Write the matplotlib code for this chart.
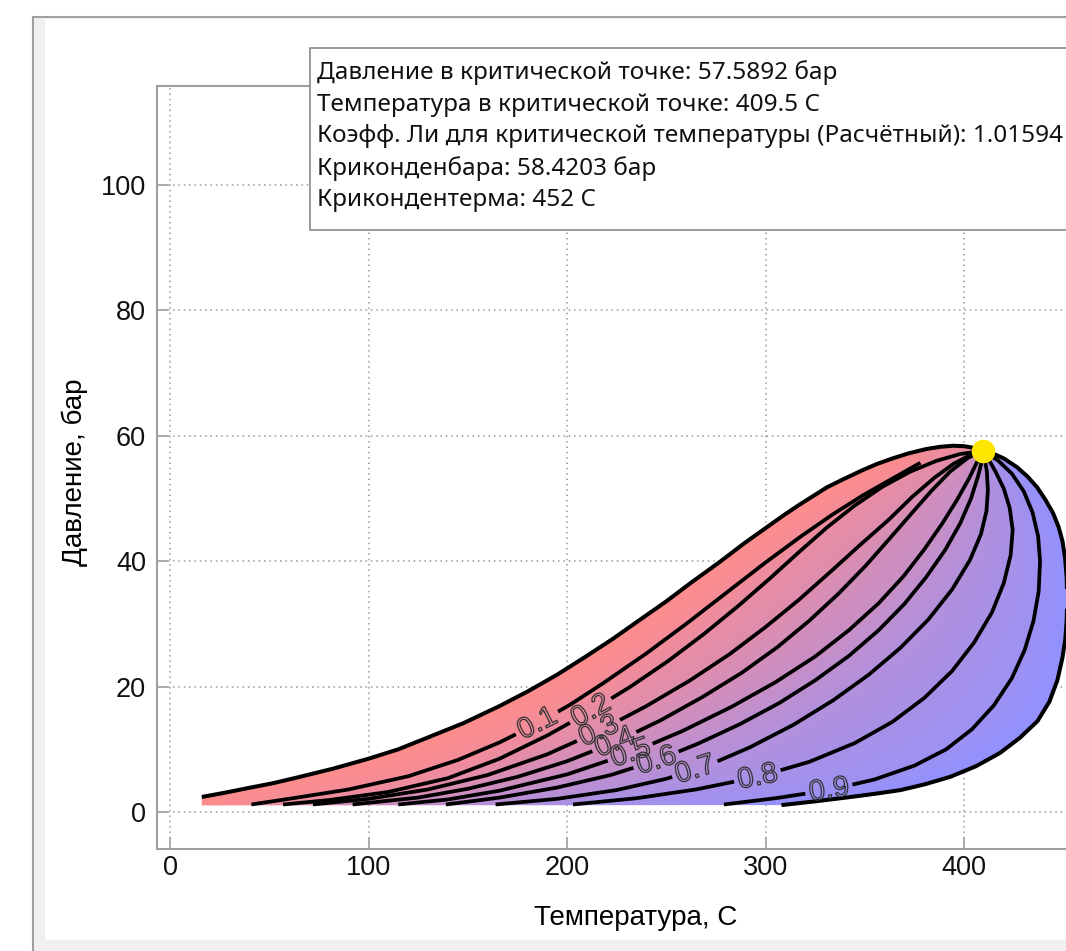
import numpy as np
import matplotlib
matplotlib.use("Agg")
import matplotlib.pyplot as plt
from matplotlib.patches import Polygon, Rectangle
import matplotlib.patheffects as pe

# ---------------- data ----------------
T_crit, P_crit = 409.5, 57.5892

bubble_T = [16, 28, 39, 52, 64, 82, 100, 115, 130, 148, 166, 180, 195, 209, 223, 236, 250, 263, 277, 289, 301, 309, 317, 324, 331, 340, 348, 356, 364, 372, 381, 388, 394.5, 400, 404.5, 409.5]
bubble_P = [2.4, 3.1, 3.8, 4.6, 5.5, 6.9, 8.5, 10.0, 11.9, 14.2, 16.9, 19.2, 21.9, 24.7, 27.6, 30.5, 33.6, 36.7, 39.9, 42.8, 45.5, 47.3, 49.0, 50.4, 51.8, 53.2, 54.4, 55.5, 56.4, 57.2, 57.9, 58.25, 58.42, 58.35, 58.1, 57.59]

dew_T = [409.5, 413, 420, 426.7, 432, 436.8, 441, 444.8, 447.6, 449.6, 450.9, 451.7, 452, 451.7, 451, 449.5, 447, 443, 437, 428, 418, 406, 393, 380, 368, 355, 343, 325, 308]
dew_P = [57.59, 57.4, 56.4, 55.0, 53.5, 51.8, 49.8, 47.7, 45.5, 43.2, 40.5, 37.5, 34.0, 30.5, 27.5, 24.5, 21.0, 17.6, 14.5, 11.8, 9.4, 7.3, 5.6, 4.4, 3.5, 2.9, 2.4, 1.7, 1.1]

q01_T = [41, 64, 90, 120, 145, 166, 185, 202, 218, 240, 260, 280, 300, 318, 334, 349, 364, 378]
q01_P = [1.2, 2.3, 3.6, 5.7, 8.3, 11.1, 14.1, 17.2, 20.5, 25.3, 30.0, 34.9, 39.8, 44.0, 47.5, 50.5, 53.2, 55.7]
q02_T = [57, 80, 110, 140, 166, 190, 212, 232, 251, 269, 286, 302, 317, 331, 345, 359, 373, 386, 398, 409.5]
q02_P = [1.2, 1.9, 3.2, 5.4, 8.5, 12.2, 16.1, 20.0, 24.1, 28.4, 32.8, 37.2, 41.5, 45.4, 48.9, 51.9, 54.3, 56.0, 57.1, 57.59]
q03_T = [72, 100, 130, 160, 190, 216, 240, 262, 282, 300, 317, 333, 348, 362, 374, 385, 395, 403, 409.5]
q03_P = [1.2, 2.1, 3.6, 5.9, 9.2, 12.9, 16.9, 21.0, 25.2, 29.5, 33.9, 38.4, 42.7, 46.6, 50.3, 53.3, 55.6, 56.9, 57.59]
q04_T = [92, 125, 150, 175, 200, 224, 247, 268, 288, 306, 322, 337, 350.5, 362.5, 373.5, 383.5, 393, 402, 409.5]
q04_P = [1.2, 2.3, 3.7, 5.6, 8.1, 11.1, 14.6, 18.3, 22.2, 26.3, 30.5, 34.9, 39.3, 43.6, 47.6, 51.2, 54.3, 56.5, 57.59]
q05_T = [115, 140, 166, 200, 232, 258, 283, 305, 325, 342, 357, 369.5, 380, 389, 396.5, 402.5, 406.5, 409.5]
q05_P = [1.2, 2.0, 3.4, 6.0, 9.4, 12.9, 16.8, 20.7, 24.8, 29.0, 33.3, 37.6, 41.9, 46.0, 49.8, 53.2, 55.8, 57.59]
q06_T = [139, 166, 195, 222, 245, 266, 287, 307, 325, 342, 357, 370, 381, 390.5, 398, 403.5, 407, 409, 409.5]
q06_P = [1.2, 2.3, 3.9, 5.9, 8.2, 10.9, 14.0, 17.4, 21.0, 24.9, 29.0, 33.2, 37.5, 41.8, 46.0, 50.0, 53.5, 56.0, 57.59]
q07_T = [164, 195, 225, 250, 270, 292, 314, 334, 352, 368, 382, 394, 403, 408.5, 411.3, 412, 411.5, 410.5, 409.5]
q07_P = [1.2, 2.1, 3.5, 5.3, 7.3, 10.3, 13.9, 17.8, 21.9, 26.2, 30.7, 35.5, 40.2, 44.3, 48.0, 51.3, 54.3, 56.2, 57.59]
q08_T = [203, 235, 265, 296, 322, 345, 364, 380, 394, 405, 414, 420, 423.5, 424.5, 423, 420, 416, 412.5, 409.5]
q08_P = [1.2, 2.2, 3.6, 5.6, 8.0, 11.0, 14.4, 18.2, 22.5, 27.0, 31.8, 36.5, 41.0, 45.0, 48.5, 51.6, 54.2, 56.2, 57.59]
q09_T = [279, 305, 332, 355, 375, 391, 404, 415, 424, 430.5, 435, 437.6, 438.3, 437.3, 434.5, 430, 424, 417, 409.5]
q09_P = [1.2, 2.2, 3.5, 5.2, 7.4, 10.0, 13.2, 17.0, 21.3, 25.8, 30.5, 35.2, 40.0, 44.0, 47.8, 51.2, 54.0, 56.1, 57.59]

quality_values = [0.1, 0.2, 0.3, 0.4, 0.5, 0.6, 0.7, 0.8, 0.9]
quality_labels = ["0.1", "0.2", "0.3", "0.4", "0.5", "0.6", "0.7", "0.8", "0.9"]
label_T = [185, 212, 216, 224, 232, 245, 264.5, 296, 332]
envelope_floor_P = 1.05

info_lines = [
    "Давление в критической точке: 57.5892 бар",
    "Температура в критической точке: 409.5 C",
    "Коэфф. Ли для критической температуры (Расчётный): 1.01594",
    "Криконденбара: 58.4203 бар",
    "Крикондентерма: 452 C",
]
x_ticks = [0, 100, 200, 300, 400]
y_ticks = [0, 20, 40, 60, 80, 100]
x_label = "Температура, С"
y_label = "Давление, бар"

quality_T = [q01_T, q02_T, q03_T, q04_T, q05_T, q06_T, q07_T, q08_T, q09_T]
quality_P = [q01_P, q02_P, q03_P, q04_P, q05_P, q06_P, q07_P, q08_P, q09_P]

# ---------------- figure ----------------
W, H = 1066, 951
fig = plt.figure(figsize=(W / 100, H / 100), dpi=100)
fig.patch.set_facecolor("white")

def fx(x):
    return x / W

def fy(y):
    return 1 - y / H

# window frame
fig.add_artist(Rectangle((fx(33), fy(960)), fx(1100) - fx(33), fy(17) - fy(960),
                         transform=fig.transFigure, facecolor="#f0f0f0",
                         edgecolor="#a0a0a0", lw=1.5, zorder=-2))
fig.add_artist(Rectangle((fx(45), fy(940)), fx(1100) - fx(45), fy(18.5) - fy(940),
                         transform=fig.transFigure, facecolor="white",
                         edgecolor="none", zorder=-1))

ax_left, ax_right, ax_top, ax_bottom = 157, 1103, 86, 849
ax = fig.add_axes([fx(ax_left), fy(ax_bottom), fx(ax_right) - fx(ax_left), fy(ax_top) - fy(ax_bottom)])
ax.set_zorder(1)
ax.set_facecolor("none")
ax.set_xlim(-6.55, 470)
ax.set_ylim(-5.9, 115.8)
ax.set_xticks(x_ticks)
ax.set_yticks(y_ticks)
ax.tick_params(direction="in", length=8, width=1.2, color="#a0a0a0",
               labelsize=19.5, labelcolor="#111111")
ax.tick_params(axis="y", pad=8)
ax.tick_params(axis="x", pad=4)
for lab in ax.get_xticklabels() + ax.get_yticklabels():
    lab.set_fontfamily(["Liberation Sans", "DejaVu Sans"])
for s in ax.spines.values():
    s.set_color("#a0a0a0")
    s.set_linewidth(1.5)
ax.grid(True, color="#999999", linestyle=(0, (1, 2.5)), linewidth=1.1)
ax.set_axisbelow(True)

ax.set_xlabel(x_label, fontsize=20, family=["Liberation Sans", "DejaVu Sans"], va="center")
ax.xaxis.set_label_coords((636 - ax_left) / (ax_right - ax_left), (ax_bottom - 918) / (ax_bottom - ax_top))
ax.set_ylabel(y_label, fontsize=20, family=["Liberation Sans", "DejaVu Sans"], va="center")
ax.yaxis.set_label_coords((75 - ax_left) / (ax_right - ax_left), (ax_bottom - 472) / (ax_bottom - ax_top))

# ---------------- colour fill by quality ----------------
red = np.array([255, 140, 140]) / 255
blue = np.array([146, 146, 255]) / 255

nb = int(np.argmax(bubble_P)) + 1
all_T = [bubble_T[:nb]] + quality_T + [dew_T[::-1]]
all_P = [bubble_P[:nb]] + quality_P + [dew_P[::-1]]
all_Q = [0.0] + quality_values + [1.0]

Tg = np.linspace(0, 460, 921)
Pg = np.linspace(0, 60, 601)
Qimg = np.zeros((len(Pg), len(Tg)))
for i, p in enumerate(Pg):
    tq = np.array([np.interp(p, np.asarray(pp), np.asarray(tt)) for tt, pp in zip(all_T, all_P)])
    tq = np.maximum.accumulate(tq)
    tq = tq + np.arange(len(tq)) * 1e-6
    Qimg[i] = np.interp(Tg, tq, all_Q)
rgb = red[None, None, :] * (1 - Qimg[..., None]) + blue[None, None, :] * Qimg[..., None]

env_T = [bubble_T[0]] + list(bubble_T) + list(dew_T[1:]) + [bubble_T[0]]
env_P = [envelope_floor_P] + list(bubble_P) + list(dew_P[1:]) + [envelope_floor_P]
poly = Polygon(np.column_stack([env_T, env_P]), closed=True, facecolor="none",
               edgecolor="none", transform=ax.transData)
ax.add_patch(poly)
im = ax.imshow(rgb, origin="lower", extent=[Tg[0], Tg[-1], Pg[0], Pg[-1]],
               aspect="auto", interpolation="bilinear", zorder=1)
im.set_clip_path(poly)

# ---------------- lines ----------------
LW = 2.7
ax.plot(bubble_T, bubble_P, color="black", lw=2.9, zorder=3, solid_capstyle="butt", solid_joinstyle="round")
ax.plot(dew_T, dew_P, color="black", lw=2.9, zorder=3, solid_capstyle="butt", solid_joinstyle="round")


def cut_line(T, P, t_lab, gap_px):
    pts = ax.transData.transform(np.column_stack([T, P]))
    seg = np.hypot(*np.diff(pts, axis=0).T)
    s = np.r_[0, np.cumsum(seg)]
    T = np.asarray(T, float)
    k = np.nonzero((T[:-1] <= t_lab) & (T[1:] >= t_lab))[0][0]
    f = (t_lab - T[k]) / (T[k + 1] - T[k])
    s0 = s[k] + f * seg[k]
    cx, cy = pts[k] + f * (pts[k + 1] - pts[k])
    d = pts[k + 1] - pts[k]
    ang = np.degrees(np.arctan2(d[1], d[0]))

    def at(sv):
        j = min(np.searchsorted(s, sv) - 1, len(s) - 2)
        j = max(j, 0)
        g = (sv - s[j]) / seg[j]
        return pts[j] + g * (pts[j + 1] - pts[j])

    a, b = s0 - gap_px, s0 + gap_px
    first = [pts[i] for i in range(len(s)) if s[i] < a] + [at(a)]
    second = [at(b)] + [pts[i] for i in range(len(s)) if s[i] > b]
    inv = ax.transData.inverted()
    return inv.transform(np.array(first)), inv.transform(np.array(second)), \
        inv.transform([[cx, cy]])[0], ang


for T, P, lab, tl in zip(quality_T, quality_P, quality_labels, label_T):
    p1, p2, c, ang = cut_line(T, P, tl, 24)
    ax.plot(p1[:, 0], p1[:, 1], color="black", lw=LW, zorder=3, solid_capstyle="butt", solid_joinstyle="round")
    ax.plot(p2[:, 0], p2[:, 1], color="black", lw=LW, zorder=3, solid_capstyle="butt", solid_joinstyle="round")
    ax.text(c[0], c[1], lab, fontsize=21, rotation=ang, rotation_mode="anchor",
            ha="center", va="center", color="none", zorder=4,
            family=["Liberation Sans Narrow", "Liberation Sans", "DejaVu Sans"],
            path_effects=[pe.withStroke(linewidth=0.9, foreground="#333333")])

ax.plot([T_crit], [P_crit], "o", ms=17, color="#ffe600", mec="none", zorder=5)

# ---------------- info box ----------------
fig.add_artist(Rectangle((fx(310), fy(230)), fx(1100) - fx(310), fy(48) - fy(230),
                         transform=fig.transFigure, facecolor="white",
                         edgecolor="#8a8a8a", lw=1.2, zorder=10))
for i, line in enumerate(info_lines):
    fig.text(fx(317), fy(73 + i * 31.75), line, fontsize=17.5, va="center", ha="left",
             family=["Noto Sans", "DejaVu Sans"], color="#111111", zorder=11)

fig.savefig("out.png", dpi=100)
